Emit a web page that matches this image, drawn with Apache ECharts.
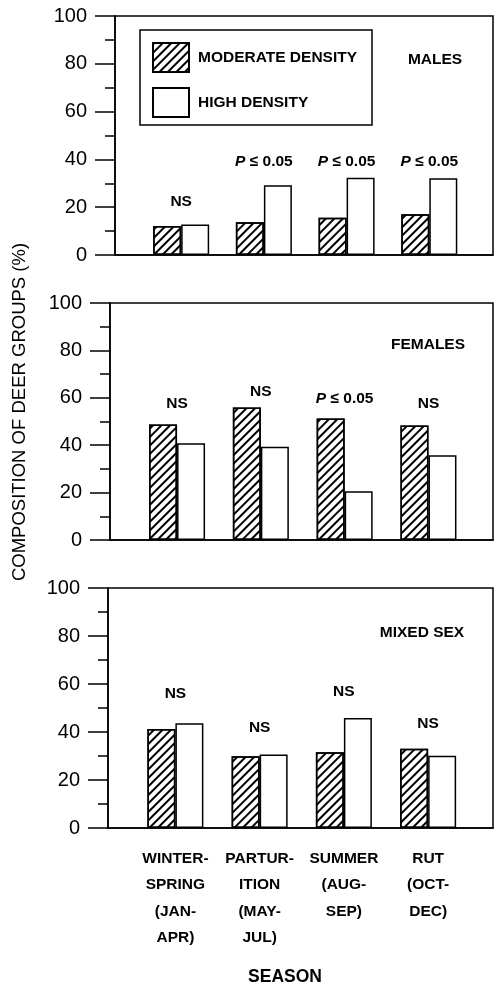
<!DOCTYPE html>
<html><head><meta charset="utf-8">
<script src="https://cdn.jsdelivr.net/npm/echarts@6/dist/echarts.min.js"></script>
<style>html,body{margin:0;padding:0;background:#fff}#c{width:502px;height:989px}</style>
</head><body><div id="c"></div>
<script>
// ---- data ----
const seasons = ['WINTER-\nSPRING\n(JAN-\nAPR)', 'PARTUR-\nITION\n(MAY-\nJUL)', 'SUMMER\n(AUG-\nSEP)', 'RUT\n(OCT-\nDEC)'];
const seriesNames = ['MODERATE DENSITY', 'HIGH DENSITY'];
const panelNames = ['MALES', 'FEMALES', 'MIXED SEX'];
const malesModerate = [12.1, 13.7, 15.6, 17.0];
const malesHigh = [12.8, 29.2, 32.3, 32.1];
const femalesModerate = [48.7, 55.9, 51.3, 48.3];
const femalesHigh = [40.8, 39.3, 20.6, 35.8];
const mixedModerate = [41.2, 29.9, 31.6, 33.0];
const mixedHigh = [43.6, 30.6, 45.8, 30.1];
const malesTests = ['NS', 'P ≤ 0.05', 'P ≤ 0.05', 'P ≤ 0.05'];
const femalesTests = ['NS', 'NS', 'P ≤ 0.05', 'NS'];
const mixedTests = ['NS', 'NS', 'NS', 'NS'];
// label heights (in % units) of the test annotations
const malesTestY = [22.3, 39, 39, 39];
const femalesTestY = [57.7, 62.6, 59.8, 57.7];
const mixedTestY = [56.1, 41.8, 56.8, 43.6];
const yAxisTitle = 'COMPOSITION OF DEER GROUPS (%)';
const xAxisTitle = 'SEASON';

// ---- styling ----
const FONT = '"Liberation Sans", Arial, Helvetica, sans-serif';
const LW = 1.5;
const hatch = {
  symbol: 'rect', symbolSize: 1, dashArrayX: [1, 0], dashArrayY: [1.6, 3.2],
  rotation: -Math.PI / 4, color: '#000'
};

const panels = [
  { mod: malesModerate, high: malesHigh, tests: malesTests, ty: malesTestY, grid: { left: 115, top: 16, height: 239 } },
  { mod: femalesModerate, high: femalesHigh, tests: femalesTests, ty: femalesTestY, grid: { left: 110, top: 303, height: 237 } },
  { mod: mixedModerate, high: mixedHigh, tests: mixedTests, ty: mixedTestY, grid: { left: 108, top: 588, height: 240 } }
];
const titlePos = [[435, 60], [428, 345], [422, 633]];

const grids = [], xAxes = [], yAxes = [], series = [];
panels.forEach((p, k) => {
  grids.push({ left: p.grid.left, right: 9, top: p.grid.top, height: p.grid.height, show: true,
    borderColor: '#000', borderWidth: LW, backgroundColor: 'transparent' });
  xAxes.push({
    type: 'value', gridIndex: k, min: 0.2, max: 4.77,
    axisLine: { show: true, onZero: false, lineStyle: { color: '#000', width: LW } },
    axisTick: { show: false }, splitLine: { show: false },
    axisLabel: k === 2 ? {
      show: true, customValues: [1, 2, 3, 4],
      formatter: v => seasons[Math.round(v) - 1] || '',
      color: '#000', fontFamily: FONT, fontSize: 15.5, fontWeight: 'bold', lineHeight: 26.5, margin: 17, align: 'center'
    } : { show: false }
  });
  yAxes.push({
    type: 'value', gridIndex: k, min: 0, max: 100, interval: 20,
    axisLine: { show: true, lineStyle: { color: '#000', width: LW } },
    axisTick: { show: true, length: 20, lineStyle: { color: '#000', width: LW } },
    minorTick: { show: true, splitNumber: 2, length: 10, lineStyle: { color: '#000', width: LW } },
    splitLine: { show: false }, minorSplitLine: { show: false },
    axisLabel: { color: '#000', fontFamily: FONT, fontSize: 20, margin: 28 }
  });
  series.push({
    type: 'bar', name: seriesNames[0], xAxisIndex: k, yAxisIndex: k,
    data: p.mod.map((v, i) => [i + 1, v]), barWidth: 28, barGap: '0%',
    itemStyle: { color: '#fff', borderColor: '#000', borderWidth: LW, decal: hatch },
    emphasis: { disabled: true }, animation: false
  });
  series.push({
    type: 'bar', name: seriesNames[1], xAxisIndex: k, yAxisIndex: k,
    data: p.high.map((v, i) => [i + 1, v]), barWidth: 28, barGap: '0%',
    itemStyle: { color: '#fff', borderColor: '#000', borderWidth: LW },
    emphasis: { disabled: true }, animation: false
  });
  series.push({
    type: 'scatter', xAxisIndex: k, yAxisIndex: k, symbolSize: 0, silent: true,
    itemStyle: { opacity: 1 },
    data: p.tests.map((t, i) => ({ value: [i + 1, p.ty[i]], name: t })),
    label: {
      show: true, position: 'inside', color: '#000', opacity: 1, textBorderWidth: 0,
      fontFamily: FONT, fontSize: 15.5, fontWeight: 'bold',
      formatter: d => d.name.charAt(0) === 'P' ? '{i|P} ' + d.name.slice(2) : d.name,
      rich: { i: { fontStyle: 'italic', fontWeight: 'bold', fontFamily: FONT, fontSize: 15.5, color: '#000' } }
    },
    animation: false
  });
});

const graphics = panelNames.map((n, k) => ({
  type: 'text', x: titlePos[k][0], y: titlePos[k][1],
  style: { text: n, fill: '#000', font: 'bold 15.5px ' + FONT, textAlign: 'center', textVerticalAlign: 'middle' }
}));
graphics.push({
  type: 'text', x: 20, y: 412, rotation: Math.PI / 2,
  style: { text: yAxisTitle, fill: '#000', font: '18.5px ' + FONT, textAlign: 'center', textVerticalAlign: 'middle' }
});
graphics.push({
  type: 'text', x: 285, y: 977,
  style: { text: xAxisTitle, fill: '#000', font: 'bold 17.5px ' + FONT, textAlign: 'center', textVerticalAlign: 'middle' }
});

const chart = echarts.init(document.getElementById('c'), null, { renderer: 'canvas' });
chart.setOption({
  backgroundColor: '#fff',
  animation: false,
  legend: {
    data: seriesNames, orient: 'vertical', left: 140, top: 30,
    itemWidth: 36, itemHeight: 29, itemGap: 14, icon: 'rect',
    padding: [12, 15, 7, 12], borderColor: '#000', borderWidth: LW,
    textStyle: { color: '#000', fontFamily: FONT, fontSize: 15.5, fontWeight: 'bold', padding: [0, 0, 0, 4] },
    selectedMode: false
  },
  grid: grids, xAxis: xAxes, yAxis: yAxes, series: series, graphic: graphics
});
</script></body></html>
